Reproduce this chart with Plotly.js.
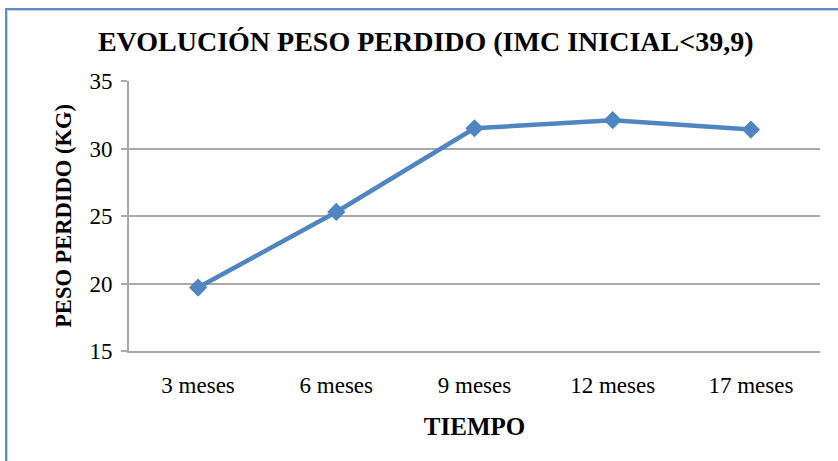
<!DOCTYPE html>
<html>
<head>
<meta charset="utf-8">
<script src="https://cdn.plot.ly/plotly-3.0.1.min.js"></script>
<style>
html,body{margin:0;padding:0;background:#fff;}
#wrap{position:relative;width:838px;height:461px;overflow:hidden;}
#frame{position:absolute;left:5px;top:8px;width:900px;height:500px;border-left:2px solid #5b8fc9;border-top:2px solid #5b8fc9;box-shadow:inset 1px 1px 0 #d0d4da;}
#chart{position:absolute;left:0;top:0;width:838px;height:461px;}
</style>
</head>
<body>
<div id="wrap">
<div id="frame"></div>
<div id="chart"></div>
</div>
<script>
const categories = ["3 meses", "6 meses", "9 meses", "12 meses", "17 meses"];
const pesoPerdido = [19.7, 25.3, 31.5, 32.1, 31.4];
const yTicks = [15, 20, 25, 30, 35];

const serif = "Liberation Serif";

const trace = {
  x: categories,
  y: pesoPerdido,
  type: "scatter",
  mode: "lines+markers",
  line: {color: "#4f86c2", width: 4.5},
  marker: {symbol: "diamond", size: 14, color: "#4f86c2"},
  hoverinfo: "x+y"
};

const layout = {
  width: 838,
  height: 461,
  paper_bgcolor: "rgba(0,0,0,0)",
  plot_bgcolor: "rgba(0,0,0,0)",
  margin: {l: 129, r: 18, t: 81, b: 110},
  showlegend: false,
  title: {
    text: "<b>EVOLUCIÓN PESO PERDIDO (IMC INICIAL<39,9)</b>",
    font: {family: serif, size: 28, color: "#000"},
    x: 0.508, xref: "container", xanchor: "center",
    y: 0.91, yref: "container", yanchor: "middle"
  },
  xaxis: {
    type: "category",
    range: [-0.5, 4.5],
    showgrid: false,
    showline: true,
    linecolor: "#a6a6a6",
    linewidth: 2,
    ticks: "",
    ticklabelstandoff: 12,
    tickfont: {family: serif, size: 23, color: "#000"},
    title: {text: "<b>TIEMPO</b>", font: {family: serif, size: 25, color: "#000"}, standoff: 21},
    zeroline: false,
    fixedrange: true
  },
  yaxis: {
    range: [15, 35],
    tickvals: yTicks,
    ticktext: yTicks.map(String),
    showgrid: true,
    gridcolor: "#a9a9a9",
    gridwidth: 2,
    showline: true,
    linecolor: "#a9a9a9",
    linewidth: 2,
    ticks: "outside",
    ticklen: 6,
    tickcolor: "#a9a9a9",
    tickwidth: 2,
    ticklabelstandoff: 4,
    tickfont: {family: serif, size: 23, color: "#000"},
    title: {text: "<b>PESO PERDIDO (KG)</b>", font: {family: serif, size: 22.5, color: "#000"}, standoff: 12},
    zeroline: false,
    fixedrange: true
  }
};

Plotly.newPlot("chart", [trace], layout, {displayModeBar: false, staticPlot: true});
</script>
</body>
</html>
